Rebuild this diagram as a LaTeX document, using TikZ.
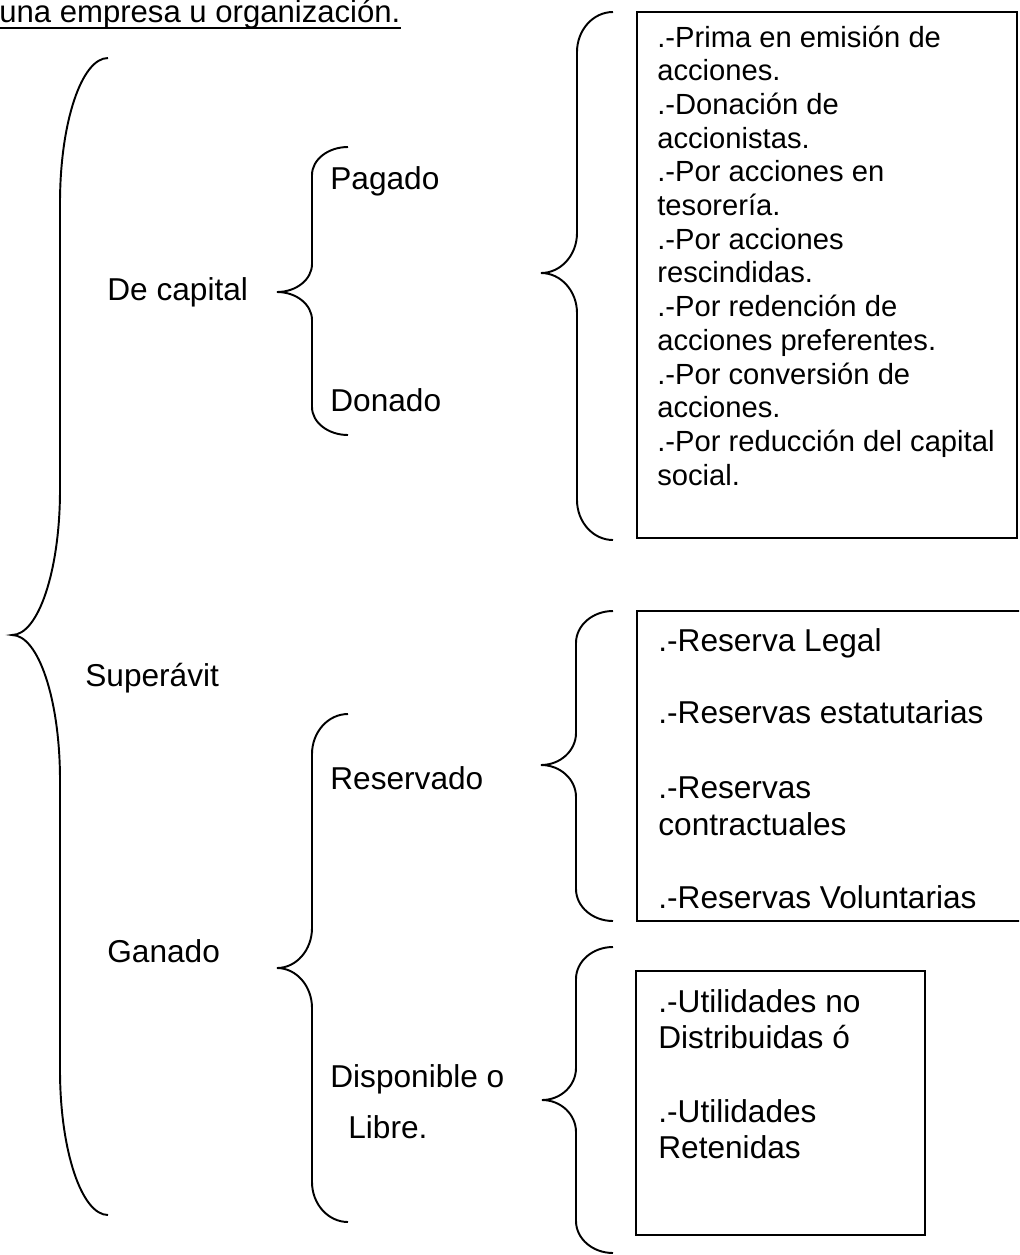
\documentclass[tikz,border=0pt]{standalone}
\usepackage{fontspec}
\setmainfont{Liberation Sans}
\usetikzlibrary{calc}

% llave: tip x, vertical x, end x, top y, tip y, bottom y, radius
\newcommand{\llave}[7]{%
  \draw[llave] (#3,#4) .. controls ({#3-0.552*(#3-#2)},#4) and (#2,{#4+0.448*#7}) .. (#2,{#4+#7})
    -- (#2,{#5-#7}) .. controls (#2,{#5-0.448*#7}) and ({#1+0.552*(#2-#1)},#5) .. (#1,#5)
    .. controls ({#1+0.552*(#2-#1)},#5) and (#2,{#5+0.448*#7}) .. (#2,{#5+#7})
    -- (#2,{#6-#7}) .. controls (#2,{#6-0.448*#7}) and ({#3-0.552*(#3-#2)},#6) .. (#3,#6);}

\begin{document}
\begin{tikzpicture}[x=0.02cm,y=-0.02cm,
    texto/.style={anchor=base west,inner sep=0pt,font=\fontsize{18}{21}\selectfont},
    chico/.style={texto,font=\fontsize{16.6}{19}\selectfont},
    llave/.style={line width=1.1pt},
    caja/.style={line width=1.1pt}]
\clip (0,0) rectangle (1019,1255);

\node[texto,font=\fontsize{17.7}{21}\selectfont] (tit) at (-1,22) {una empresa u organización.};
\draw[line width=1pt] ($(tit.base west)+(0,6)$) -- ($(tit.base east)+(0,6)$);

% llaves
\llave{12}{60}{108}{58}{635}{1215}{145}
\llave{277}{312}{348}{147}{292}{435}{28}
\llave{277}{312}{348}{714}{968}{1222}{40}
\llave{541}{577}{613}{12}{273}{540}{40}
\llave{541}{576}{613}{611}{765}{921}{32}
\llave{542}{576}{613}{947}{1100}{1253}{32}

\node[texto] (decap) at (107,300) {De capital};
\node[texto] (pag) at (330,189) {Pagado};
\node[texto] (don) at (330,411) {Donado};
\node[texto] (sup) at (85,686) {Superávit};
\node[texto] (gan) at (107,962) {Ganado};
\node[texto] (resv) at (330,789) {Reservado};
\node[texto] (disp) at (330,1087) {Disponible o};
\node[texto] (lib) at (348,1138) {Libre.};

% cajas
\draw[caja] (637,12) rectangle (1017,538);
\draw[caja] (637,611) rectangle (1030,921);
\draw[caja] (636,971) rectangle (925,1235);

\foreach \t [count=\i] in {.-Prima en emisión de,acciones.,.-Donación de,accionistas.,.-Por acciones en,tesorería.,.-Por acciones,rescindidas.,.-Por redención de,acciones preferentes.,.-Por conversión de,acciones.,.-Por reducción del capital,social.}
    \node[chico] (cap\i) at (657,{47+33.7*(\i-1)}) {\t};

\foreach \t/\yy [count=\i] in {.-Reserva Legal/651,.-Reservas estatutarias/723,.-Reservas/798,contractuales/835,.-Reservas Voluntarias/908}
    \node[texto] (res\i) at (658,\yy) {\t};

\foreach \t/\yy [count=\i] in {.-Utilidades no/1012,Distribuidas ó/1048,.-Utilidades/1122,Retenidas/1158}
    \node[texto] (uti\i) at (658,\yy) {\t};

\end{tikzpicture}
\end{document}
